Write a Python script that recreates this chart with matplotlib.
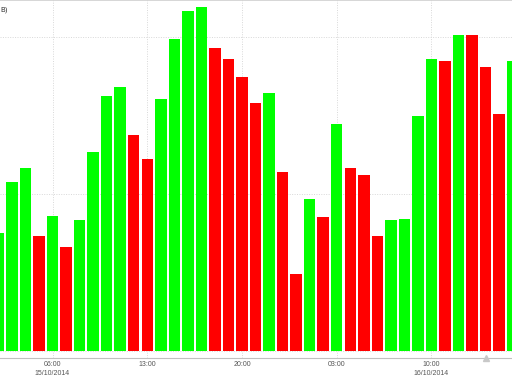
import matplotlib
matplotlib.use("Agg")
import matplotlib.pyplot as plt
import matplotlib.dates as mdates
import numpy as np
import pandas as pd

# hourly values, 15/10/2014 02:00 -> 16/10/2014 16:00
start = "2014-10-15 02:00"
values = [376, 541, 583, 369, 431, 334, 420, 634, 813, 843,
          688, 612, 803, 995, 1083, 1096, 966, 931, 874, 790,
          824, 570, 247, 484, 428, 723, 583, 561, 367, 419,
          423, 751, 931, 926, 1009, 1007, 905, 756, 926]
tick_idx = [4, 11, 18, 25, 32]
tick_labels = ["06:00\n15/10/2014", "13:00", "20:00", "03:00", "10:00\n16/10/2014"]
corner_label = "B)"

times = pd.date_range(start, periods=len(values), freq="h")
x = mdates.date2num(times.to_pydatetime())
hour = 1 / 24.0

# green when the value went up, red when it went down
colors = ["#00ff00"]
for i in range(1, len(values)):
    colors.append("#00ff00" if values[i] >= values[i - 1] else "#ff0000")

fig = plt.figure(figsize=(5.12, 3.76), dpi=100)
ax = fig.add_axes([0, 18 / 376, 1, 358 / 376])

ax.bar(x, values, width=0.85 * hour, color=colors, edgecolor="none", zorder=3)

ax.set_xlim(x[0] + 0.12 * hour, x[0] + 37.95 * hour)
ax.set_ylim(-21, 1119)
ax.set_yticks([0, 500, 1000])
ax.set_xticks(x[tick_idx])
ax.set_xticklabels(tick_labels, fontsize=5, color="#555555", family="Liberation Sans",
                   linespacing=1.3)
ax.tick_params(axis="x", length=0, pad=2.5)
ax.tick_params(axis="y", length=0, labelleft=False)
ax.grid(True, color="#d8d8d8", linestyle=(0, (1, 1.5)), linewidth=0.7, zorder=0)

for side in ["left", "right"]:
    ax.spines[side].set_visible(False)
ax.spines["bottom"].set_color("#c0c0c0")
ax.spines["bottom"].set_linewidth(0.8)
ax.spines["top"].set_color("#d0d0d0")
ax.spines["top"].set_linewidth(1.2)

# little navigator handle on the axis
ax.plot([x[36]], [-21], marker="^", markersize=4, color="#c8c8c8", clip_on=False, zorder=4)

fig.text(0.0, 0.975, corner_label, fontsize=5, color="#333333", va="center", ha="left")

fig.savefig("out.png", dpi=100)
